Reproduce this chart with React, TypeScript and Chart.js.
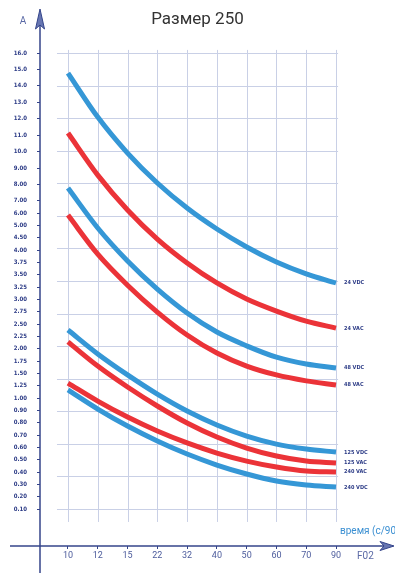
import React, { useEffect, useRef } from 'react';
import { Chart, registerables } from 'chart.js';

Chart.register(...registerables);

const TITLE = 'Размер 250';
const X_LABELS = ['10', '12', '15', '22', '32', '40', '50', '60', '70', '90'];
const Y_TICK_LABELS = [
  '0.10', '0.20', '0.30', '0.40', '0.50', '0.60', '0.70', '0.80', '0.90', '1.00',
  '1.25', '1.50', '1.75', '2.00', '2.25', '2.50', '2.75', '3.00', '3.25', '3.50',
  '3.75', '4.00', '4.50', '5.00', '6.00', '7.00', '8.00', '9.00', '10.0', '11.0',
  '12.0', '13.0', '14.0', '15.0', '16.0',
];
const Y_TICK_VALUES = Y_TICK_LABELS.map(Number);

const SERIES_NAMES = ['24 VDC', '24 VAC', '48 VDC', '48 VAC', '125 VDC', '125 VAC', '240 VAC', '240 VDC'];
const V24_DC = [14.78, 12.1, 9.91, 8.09, 6.42, 4.86, 4.13, 3.76, 3.52, 3.335];
const V24_AC = [11.13, 8.57, 6.26, 4.45, 3.74, 3.335, 3.01, 2.765, 2.56, 2.42];
const V48_DC = [7.78, 4.9, 3.78, 3.21, 2.725, 2.34, 2.06, 1.83, 1.69, 1.61];
const V48_AC = [5.85, 3.92, 3.29, 2.745, 2.28, 1.915, 1.65, 1.47, 1.35, 1.265];
const V125_DC = [2.38, 1.895, 1.47, 1.08, 0.895, 0.782, 0.692, 0.627, 0.587, 0.562];
const V125_AC = [2.14, 1.65, 1.225, 0.936, 0.798, 0.684, 0.595, 0.53, 0.489, 0.473];
const V240_AC = [1.305, 0.976, 0.846, 0.733, 0.636, 0.554, 0.489, 0.441, 0.408, 0.4];
const V240_DC = [1.165, 0.911, 0.773, 0.652, 0.546, 0.457, 0.384, 0.327, 0.295, 0.278];
const SERIES = [V24_DC, V24_AC, V48_DC, V48_AC, V125_DC, V125_AC, V240_AC, V240_DC];

const BLUE = '#3597d6';
const RED = '#eb3338';
const SERIES_COLORS = [BLUE, RED, BLUE, RED, BLUE, RED, RED, BLUE];

const AXIS_COLOR = '#34448a';
const GRID_COLOR = '#c9d0e6';
const LABEL_COLOR = '#2c3b86';

// The printed axis is not linear: equal steps between labels, larger steps above 7.00
const Y_UNITS = Y_TICK_VALUES.map((_, i) => (i <= 25 ? i : 25 + ((i - 25) * 4) / 3));
const Y_TOP = Y_UNITS[Y_UNITS.length - 1];

function toUnits(v: number): number {
  for (let i = 0; i < Y_TICK_VALUES.length - 1; i++) {
    const a = Y_TICK_VALUES[i];
    const b = Y_TICK_VALUES[i + 1];
    if (v >= a && v <= b) {
      return Y_UNITS[i] + ((v - a) / (b - a)) * (Y_UNITS[i + 1] - Y_UNITS[i]);
    }
  }
  return v < Y_TICK_VALUES[0] ? 0 : Y_TOP;
}

const decor = {
  id: 'decor',
  beforeDatasetsDraw(chart: any) {
    const { ctx, scales } = chart;
    const x = scales.x;
    const y = scales.y;
    ctx.save();
    ctx.strokeStyle = GRID_COLOR;
    ctx.lineWidth = 1;
    const xl = x.getPixelForValue(-0.37);
    const xr = x.getPixelForValue(9.07);
    for (let k = 0; k <= 14; k++) {
      const py = Math.round(y.getPixelForValue((k * Y_TOP) / 14)) + 0.5;
      ctx.beginPath();
      ctx.moveTo(xl, py);
      ctx.lineTo(xr, py);
      ctx.stroke();
    }
    const yt = y.getPixelForValue(Y_TOP + 0.25);
    const yb = y.getPixelForValue(-1.05);
    for (let i = 0; i < X_LABELS.length; i++) {
      const px = Math.round(x.getPixelForValue(i)) + 0.5;
      ctx.beginPath();
      ctx.moveTo(px, yt);
      ctx.lineTo(px, yb);
      ctx.stroke();
    }
    ctx.restore();
  },
  afterDraw(chart: any) {
    const { ctx, chartArea } = chart;
    const ax = chartArea.left;
    const ay = chartArea.bottom;
    ctx.save();
    ctx.strokeStyle = AXIS_COLOR;
    ctx.lineWidth = 1.5;
    ctx.beginPath();
    ctx.moveTo(ax, 24);
    ctx.lineTo(ax, chart.height);
    ctx.stroke();
    ctx.beginPath();
    ctx.moveTo(10, ay);
    ctx.lineTo(386, ay);
    ctx.stroke();
    // arrows
    ctx.fillStyle = '#6776b2';
    ctx.lineWidth = 1;
    ctx.beginPath();
    ctx.moveTo(ax, 9);
    ctx.lineTo(ax + 4.5, 29);
    ctx.lineTo(ax, 25);
    ctx.lineTo(ax - 4.5, 29);
    ctx.closePath();
    ctx.fill();
    ctx.stroke();
    ctx.beginPath();
    ctx.moveTo(394, ay);
    ctx.lineTo(380, ay - 4.5);
    ctx.lineTo(384, ay);
    ctx.lineTo(380, ay + 4.5);
    ctx.closePath();
    ctx.fill();
    ctx.stroke();

    ctx.textBaseline = 'middle';
    ctx.textAlign = 'center';
    ctx.fillStyle = '#5b6aa6';
    ctx.font = '10px Roboto';
    ctx.fillText('A', 23, 21);
    ctx.textAlign = 'left';
    ctx.fillText('F02', 357, 556);
    ctx.fillStyle = '#3a8fd2';
    ctx.font = '10px Roboto';
    ctx.fillText('время (с/90', 340, 531);

    ctx.fillStyle = LABEL_COLOR;
    ctx.font = 'bold 5.5px "DejaVu Sans Condensed", "DejaVu Sans"';
    chart.data.datasets.forEach((ds: any, i: number) => {
      const meta = chart.getDatasetMeta(i);
      const last = meta.data[meta.data.length - 1];
      ctx.fillText(ds.label, last.x + 8, last.y);
    });
    ctx.restore();
  },
};

export default function App() {
  const ref = useRef<HTMLCanvasElement>(null);

  useEffect(() => {
    if (!ref.current) return;
    const chart = new Chart(ref.current, {
      type: 'line',
      data: {
        datasets: SERIES.map((vals, i) => ({
          label: SERIES_NAMES[i],
          data: vals.map((v, j) => ({ x: j, y: toUnits(v) })),
          borderColor: SERIES_COLORS[i],
          backgroundColor: SERIES_COLORS[i],
          borderWidth: 5,
          pointRadius: 0,
          fill: false,
          cubicInterpolationMode: 'monotone' as const,
        })),
      },
      options: {
        responsive: false,
        animation: false,
        layout: { padding: 0 },
        plugins: {
          legend: { display: false },
          tooltip: { enabled: false },
          title: {
            display: true,
            text: TITLE,
            color: '#333333',
            font: { family: 'Roboto', size: 17, weight: 'normal' },
            padding: { top: 10, bottom: 22.6 },
          },
        },
        scales: {
          x: {
            type: 'linear',
            min: -0.94,
            max: 9.067,
            afterFit: (s: any) => {
              s.height = 27;
            },
            afterBuildTicks: (s: any) => {
              s.ticks = X_LABELS.map((_, i) => ({ value: i }));
            },
            border: { display: false },
            grid: { drawOnChartArea: false, drawTicks: true, tickLength: 3, color: AXIS_COLOR, lineWidth: 1 },
            ticks: {
              autoSkip: false,
              maxRotation: 0,
              padding: 1,
              color: '#4d5c9c',
              font: { family: 'Roboto', size: 9 },
              callback: (v: any) => X_LABELS[Math.round(Number(v))] ?? '',
            },
          },
          y: {
            type: 'linear',
            position: 'left',
            min: -3,
            max: Y_TOP,
            afterFit: (s: any) => {
              s.width = 40;
            },
            afterBuildTicks: (s: any) => {
              s.ticks = Y_UNITS.map((u) => ({ value: u }));
            },
            border: { display: false },
            grid: { drawOnChartArea: false, drawTicks: true, tickLength: 3, color: AXIS_COLOR, lineWidth: 1 },
            ticks: {
              autoSkip: false,
              padding: 10,
              color: LABEL_COLOR,
              font: { family: '"DejaVu Sans Condensed", "DejaVu Sans"', size: 6, weight: 'bold' },
              callback: (v: any) => {
                const n = Number(v);
                let best = 0;
                for (let i = 1; i < Y_UNITS.length; i++) {
                  if (Math.abs(Y_UNITS[i] - n) < Math.abs(Y_UNITS[best] - n)) best = i;
                }
                return Y_TICK_LABELS[best];
              },
            },
          },
          yr: {
            type: 'linear',
            position: 'right',
            display: true,
            min: 0,
            max: 1,
            afterFit: (s: any) => {
              s.width = 57;
            },
            border: { display: false },
            grid: { display: false },
            ticks: { display: false },
          },
        },
      },
      plugins: [decor],
    });
    return () => chart.destroy();
  }, []);

  return (
    <div style={{ position: 'absolute', left: 0, top: 0, width: 395, height: 573, background: '#ffffff' }}>
      <canvas ref={ref} width={395} height={573} style={{ display: 'block', width: 395, height: 573 }} />
    </div>
  );
}
